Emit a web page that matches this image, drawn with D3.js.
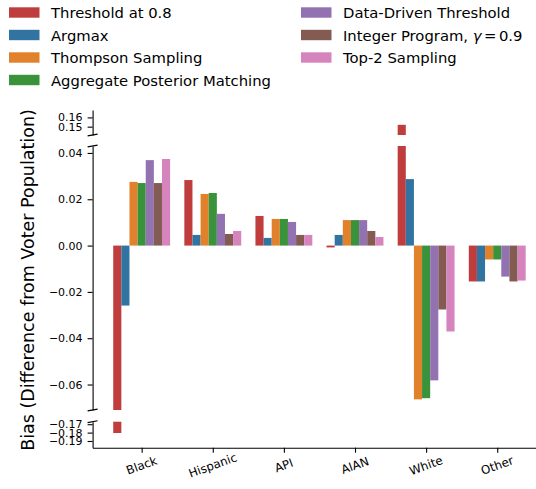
<!DOCTYPE html>
<html><head><meta charset="utf-8">
<script src="https://cdn.jsdelivr.net/npm/d3@7"></script>
<style>
body{margin:0;background:#fff;}
svg{display:block;font-family:"DejaVu Sans",sans-serif;}
</style></head>
<body><svg id="c" width="536" height="489"></svg>
<script>
const groups = ["Black","Hispanic","API","AIAN","White","Other"];
const methods = ["Threshold at 0.8","Argmax","Thompson Sampling","Aggregate Posterior Matching","Data-Driven Threshold","Integer Program","Top-2 Sampling"];
const colors = ["#c03d3e","#3274a1","#e1812c","#3a923a","#9372b2","#845b53","#d684bd"];
// values per method, in group order
const thresholdVals = [-0.1805, 0.0283, 0.0128, -0.0008, 0.152, -0.0155];
const argmaxVals    = [-0.0259, 0.0046, 0.0033, 0.0046, 0.0287, -0.0155];
const thompsonVals  = [0.0275, 0.0223, 0.0115, 0.0110, -0.0664, -0.0060];
const apmVals       = [0.0270, 0.0227, 0.0115, 0.0110, -0.0659, -0.0060];
const dataDrivenVals= [0.0369, 0.0137, 0.0102, 0.0110, -0.0582, -0.0134];
const integerVals   = [0.0270, 0.0050, 0.0046, 0.0063, -0.0276, -0.0155];
const top2Vals      = [0.0374, 0.0063, 0.0046, 0.0037, -0.0371, -0.0151];
const series = [thresholdVals,argmaxVals,thompsonVals,apmVals,dataDrivenVals,integerVals,top2Vals];
const topTicks = [0.15, 0.16];
const midTicks = [-0.06,-0.04,-0.02,0.00,0.02,0.04];
const botTicks = [-0.19,-0.18,-0.17];

const svg = d3.select("#c");
const x = d3.scaleLinear().domain([-0.69, 5.69]).range([92.6, 546.3]);
const segs = [
  {y: d3.scaleLinear().domain([0.141, 0.168]).range([135, 110]), ticks: topTicks},
  {y: d3.scaleLinear().domain([-0.071, 0.043]).range([410, 146]), ticks: midTicks},
  {y: d3.scaleLinear().domain([-0.198, -0.167]).range([447.7, 421.7]), ticks: botTicks}
];
const nM = methods.length, bw = 0.8 / nM;

// bars
segs.forEach(seg => {
  const [lo, hi] = seg.y.domain();
  const g = svg.append("g");
  series.forEach((vals, j) => {
    vals.forEach((v, i) => {
      const a = Math.max(lo, Math.min(0, v)), b = Math.min(hi, Math.max(0, v));
      if (b <= a) return;
      const cx = i + (j - (nM - 1) / 2) * bw;
      g.append("rect")
        .attr("x", x(cx - bw / 2)).attr("width", x(cx + bw / 2) - x(cx - bw / 2))
        .attr("y", seg.y(b)).attr("height", seg.y(a) - seg.y(b))
        .attr("fill", colors[j]);
    });
  });
});

// y axes
segs.forEach(seg => {
  const ax = svg.append("g").attr("transform", `translate(${x.range()[0]},0)`)
    .call(d3.axisLeft(seg.y).tickValues(seg.ticks).tickFormat(d3.format(".2f")).tickSize(5).tickSizeOuter(0).tickPadding(5));
  ax.selectAll("text").attr("font-size", 11).attr("font-family", "DejaVu Sans").attr("fill", "#000");
  ax.selectAll("line,path").attr("stroke", "#000").attr("stroke-width", 1.1);
});

// break marks
const sx = x.range()[0];
[135, 146, 410, 421.7].forEach(yy => {
  svg.append("line").attr("x1", sx - 5).attr("y1", yy + 0.9).attr("x2", sx + 5).attr("y2", yy - 0.9)
    .attr("stroke", "#000").attr("stroke-width", 1.1);
});

// x axis
const xa = svg.append("g").attr("transform", `translate(0,${segs[2].y.range()[0]})`)
  .call(d3.axisBottom(x).tickValues(d3.range(groups.length)).tickFormat(() => "").tickSize(5).tickSizeOuter(0));
xa.selectAll("line,path").attr("stroke", "#000").attr("stroke-width", 1.1);
groups.forEach((gname, i) => {
  svg.append("text").attr("transform", `translate(${x(i)},465.5) rotate(-20)`)
    .attr("text-anchor", "middle").attr("dominant-baseline", "central")
    .attr("font-size", 11.8).attr("fill", "#000").text(gname);
});

// y label
svg.append("text").attr("transform", "translate(34,280) rotate(-90)")
  .attr("text-anchor", "middle").attr("font-size", 17.5).attr("fill", "#000")
  .text("Bias (Difference from Voter Population)");

// legend
const legendPos = [[9,12.5],[9,35],[9,57.5],[9,80],[301,12.5],[301,35],[301,57.5]];
methods.forEach((m, j) => {
  const [lx, ly] = legendPos[j];
  svg.append("rect").attr("x", lx).attr("y", ly - 5.2).attr("width", 30.5).attr("height", 10.4).attr("fill", colors[j]);
  const t = svg.append("text").attr("x", lx + 42).attr("y", ly).attr("dominant-baseline", "central")
    .attr("font-size", 14.8).attr("fill", "#000");
  if (m === "Integer Program") {
    t.append("tspan").text("Integer Program, ");
    t.append("tspan").attr("font-style", "italic").text("γ");
    t.append("tspan").attr("dx", 2.5).text("=");
    t.append("tspan").attr("dx", 2.5).text("0.9");
  } else t.text(m);
});
</script></body></html>
